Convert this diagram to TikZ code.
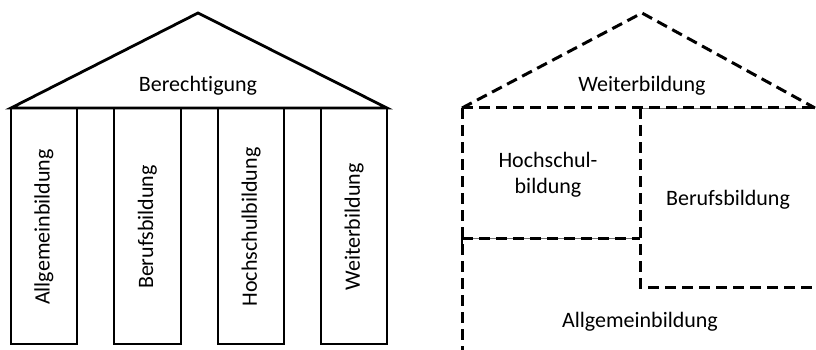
\documentclass[tikz,border=0pt]{standalone}
\usepackage{fontspec}
\setmainfont{Carlito}[Ligatures={NoCommon,NoContextual}]
\begin{document}
\begin{tikzpicture}[x=1pt,y=-1pt,
  solidline/.style={line width=2.8pt,line join=miter},
  dashline/.style={line width=3pt,dash pattern=on 11pt off 6pt},
  thinline/.style={line width=0.8pt,draw=black!55},
  lbl/.style={font=\fontsize{22}{26}\selectfont,inner sep=0pt,align=center},
  vlbl/.style={lbl,rotate=90}]
\useasboundingbox (0,0) rectangle (816,350);
% ---------- left: temple ----------
\coordinate (ta) at (198,13);
\coordinate (tl) at (11,108);
\coordinate (tr) at (387,108);
\draw[solidline] (tl) -- (ta) -- (tr) -- cycle;
\node[lbl] (ber) at (198,86) {Berechtigung};
\foreach \xa/\xb/\nm/\txt in {11/77/c1/Allgemeinbildung,114/181/c2/Berufsbildung,218/284/c3/Hochschulbildung,321/387/c4/Weiterbildung}{
  \draw[solidline] (\xa,108) rectangle (\xb,344);
  \node[vlbl] (\nm) at ({(\xa+\xb)/2},227) {\txt};
}
% ---------- right: house ----------
\coordinate (ha) at (642,13);
\coordinate (hl) at (462,108);
\coordinate (hr) at (815,108);
\coordinate (hm) at (640,108);
\coordinate (hb) at (462,238);
\coordinate (hc) at (640,238);
\coordinate (bb) at (640,287);
\coordinate (br) at (816,287);
\coordinate (lb) at (462,352);
\draw[thinline] (hm) -- (hr);
\draw[thinline] (hb) -- (hc);
\draw[dashline] (hl) -- (ha) -- (hr);
\draw[dashline] (hl) -- (hr);
\draw[dashline] (hl) -- (lb);
\draw[dashline] (hm) -- (bb) -- (br);
\draw[dashline] (hb) -- (hc);
\draw[line width=2.6pt] (462,232) -- (462,244);
\node[lbl] (wb) at (642,86) {Weiterbildung};
\node[lbl] (hs) at (548,175) {Hochschul-\\bildung};
\node[lbl] (bf) at (728,200) {Berufsbildung};
\node[lbl] (ag) at (640,322) {Allgemeinbildung};
\end{tikzpicture}
\end{document}
